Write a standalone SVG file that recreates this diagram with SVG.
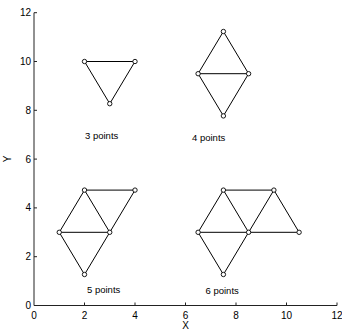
<svg xmlns="http://www.w3.org/2000/svg" width="342" height="331" viewBox="0 0 342 331">
<style>
.ax{stroke:#222;stroke-width:1;fill:none}
.e{stroke:#000;stroke-width:1;fill:none}
.n{stroke:#000;stroke-width:0.9;fill:#fff}
text{font-family:"Liberation Sans",Arial,sans-serif;fill:#000}
.tl{font-size:10px}
.lb{font-size:9.5px}
</style>
<rect width="342" height="331" fill="#fff"/>
<g id="axes">
<path class="ax" d="M34,12.7V305.5H337"/>
<path class="ax" d="M34,256.7h3M34,207.9h3M34,159.1h3M34,110.3h3M34,61.5h3M34,12.7h3M84.5,305.5v-3M135,305.5v-3M185.5,305.5v-3M236,305.5v-3M286.5,305.5v-3M337,305.5v-3"/>
<g class="tl" text-anchor="end">
<text x="31" y="309">0</text>
<text x="31" y="260">2</text>
<text x="31" y="211">4</text>
<text x="31" y="162.5">6</text>
<text x="31" y="113.5">8</text>
<text x="31" y="65">10</text>
<text x="31" y="16">12</text>
</g>
<g class="tl" text-anchor="middle">
<text x="34" y="319">0</text>
<text x="84.5" y="319">2</text>
<text x="135" y="319">4</text>
<text x="185.5" y="319">6</text>
<text x="236" y="319">8</text>
<text x="286.5" y="319">10</text>
<text x="337" y="319">12</text>
<text x="185.5" y="329">X</text>
<text transform="translate(11,159) rotate(-90)">Y</text>
</g>
</g>
<g id="connectors" class="e">
<path d="M84.5,61.5H135L109.75,103.7Z"/>
<path d="M198.1,73.7H248.6M198.1,73.7L223.4,31.5L248.6,73.7L223.4,115.9Z"/>
<path d="M84.5,190.1H135M84.5,190.1L59.25,232.3M84.5,190.1L109.75,232.3M135,190.1L109.75,232.3M59.25,232.3H109.75M59.25,232.3L84.5,274.5L109.75,232.3"/>
<path d="M223.4,190.1H273.9M223.4,190.1L198.1,232.3M223.4,190.1L248.6,232.3M273.9,190.1L248.6,232.3M273.9,190.1L299.1,232.3M198.1,232.3H299.1M198.1,232.3L223.4,274.5L248.6,232.3"/>
</g>
<g id="g3">
<circle id="n3a" class="n" cx="84.5" cy="61.5" r="2.2"/>
<circle id="n3b" class="n" cx="135" cy="61.5" r="2.2"/>
<circle id="n3c" class="n" cx="109.75" cy="103.7" r="2.2"/>
<text class="lb" x="85" y="138.5">3 points</text>
</g>
<g id="g4">
<circle id="n4a" class="n" cx="198.1" cy="73.7" r="2.2"/>
<circle id="n4b" class="n" cx="248.6" cy="73.7" r="2.2"/>
<circle id="n4c" class="n" cx="223.4" cy="31.5" r="2.2"/>
<circle id="n4d" class="n" cx="223.4" cy="115.9" r="2.2"/>
<text class="lb" x="192" y="141">4 points</text>
</g>
<g id="g5">
<circle id="n5a" class="n" cx="84.5" cy="190.1" r="2.2"/>
<circle id="n5b" class="n" cx="135" cy="190.1" r="2.2"/>
<circle id="n5c" class="n" cx="59.25" cy="232.3" r="2.2"/>
<circle id="n5d" class="n" cx="109.75" cy="232.3" r="2.2"/>
<circle id="n5e" class="n" cx="84.5" cy="274.5" r="2.2"/>
<text class="lb" x="87" y="293">5 points</text>
</g>
<g id="g6">
<circle id="n6a" class="n" cx="223.4" cy="190.1" r="2.2"/>
<circle id="n6b" class="n" cx="273.9" cy="190.1" r="2.2"/>
<circle id="n6c" class="n" cx="198.1" cy="232.3" r="2.2"/>
<circle id="n6d" class="n" cx="248.6" cy="232.3" r="2.2"/>
<circle id="n6e" class="n" cx="299.1" cy="232.3" r="2.2"/>
<circle id="n6f" class="n" cx="223.4" cy="274.5" r="2.2"/>
<text class="lb" x="205.5" y="293.5">6 points</text>
</g>
</svg>
